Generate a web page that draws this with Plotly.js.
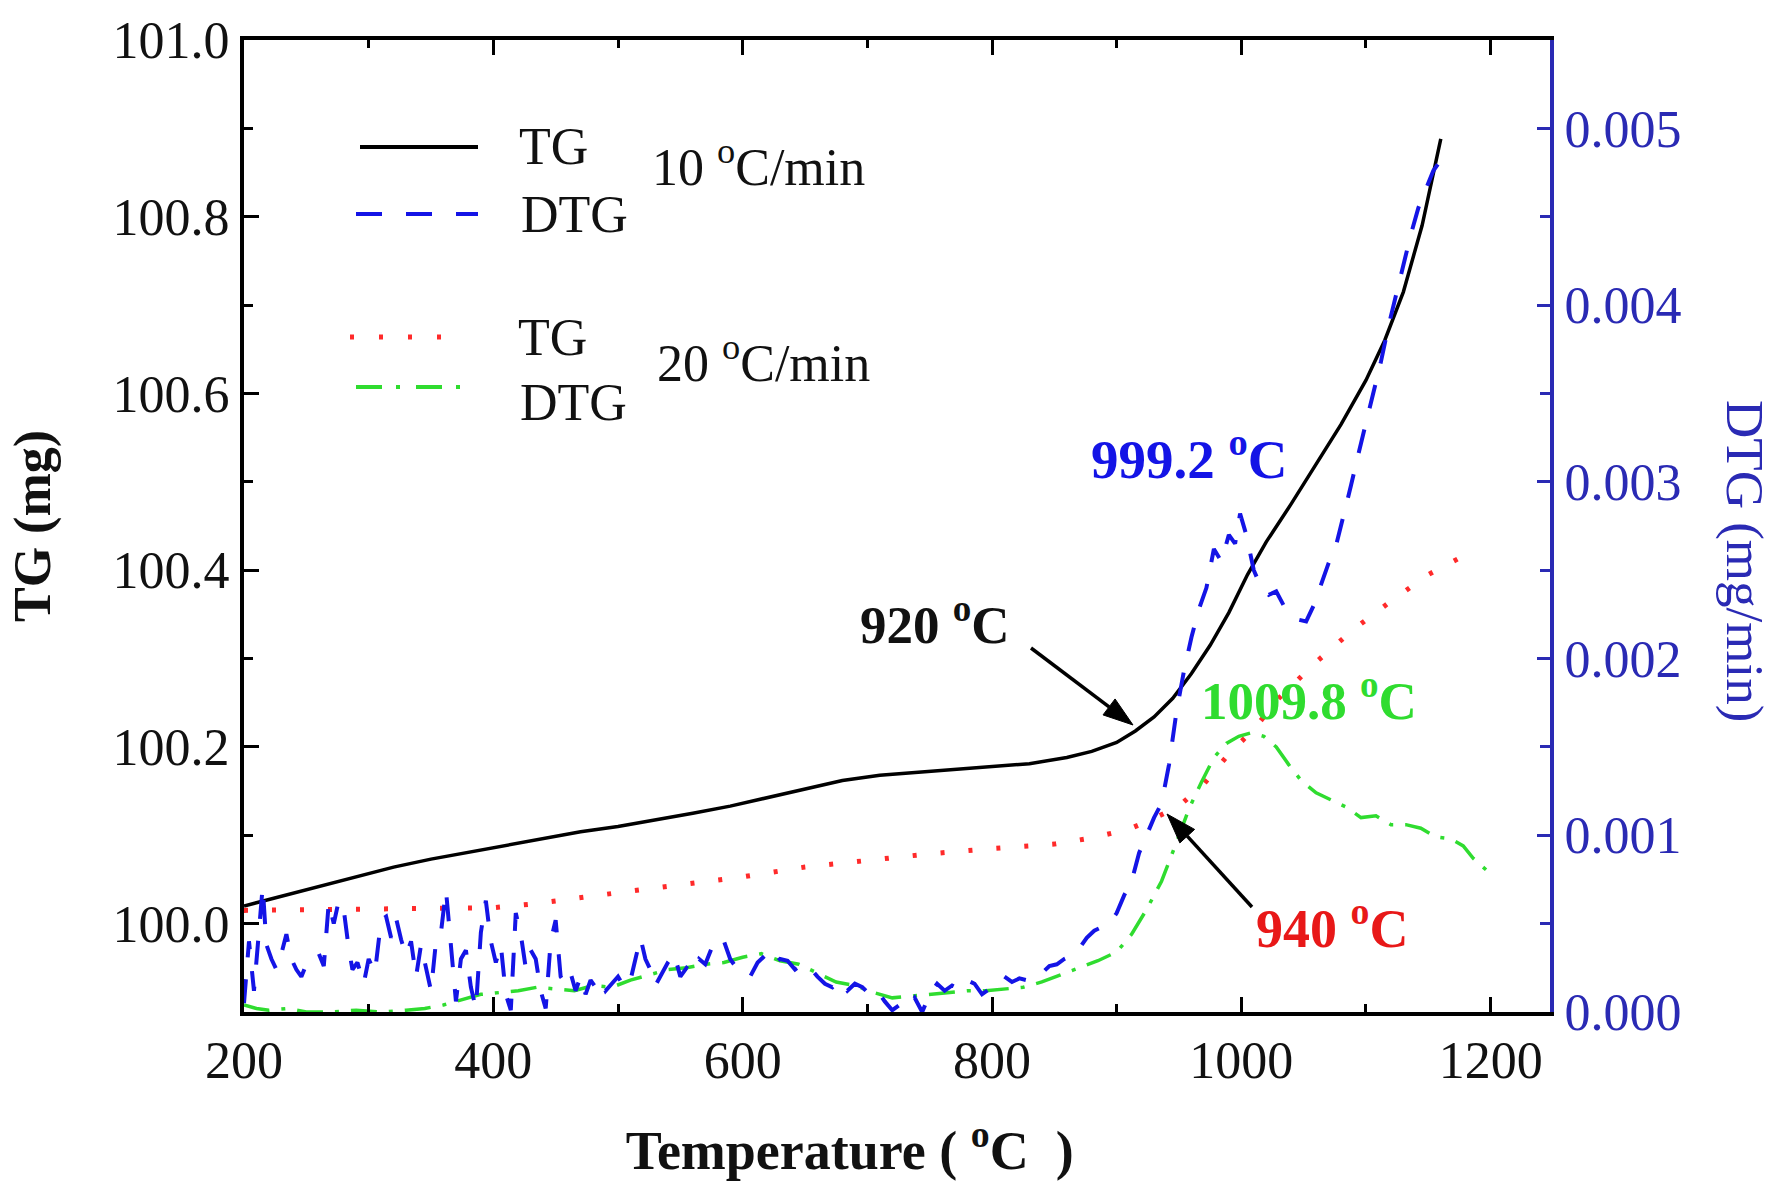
<!DOCTYPE html>
<html>
<head>
<meta charset="utf-8">
<script src="https://cdn.plot.ly/plotly-3.0.1.min.js"></script>
<style>html,body{margin:0;padding:0;background:#fff;}#chart{width:1777px;height:1186px;}</style>
</head>
<body>
<div id="chart"></div>
<script>
// ---- TG, 10 °C/min ----
const temp10 = [200, 230, 260, 290, 320, 350, 380, 410, 440, 470, 500, 530, 560, 590, 620, 650, 680, 710, 740, 770, 800, 830, 860, 880, 900, 915, 930, 945, 960, 975, 990, 1005, 1020, 1040, 1060, 1080, 1100, 1115, 1130, 1145, 1160];
const tg10 = [100.020, 100.031, 100.043, 100.053, 100.064, 100.073, 100.081, 100.089, 100.097, 100.104, 100.110, 100.117, 100.125, 100.133, 100.143, 100.153, 100.162, 100.168, 100.171, 100.174, 100.177, 100.181, 100.188, 100.195, 100.205, 100.218, 100.234, 100.255, 100.283, 100.315, 100.352, 100.395, 100.432, 100.475, 100.520, 100.565, 100.615, 100.660, 100.715, 100.790, 100.888];

// ---- DTG, 10 °C/min ----
const tempDtg10 = [200, 204, 208, 212, 215, 218, 222, 226, 230, 234, 238, 242, 246, 250, 255, 260, 264, 268, 272, 276, 280, 284, 287, 291, 296, 300, 305, 310, 314, 318, 322, 326, 330, 334, 338, 342, 346, 350, 354, 358, 362, 366, 370, 374, 378, 382, 386, 390, 394, 398, 402, 406, 410, 414, 418, 422, 426, 430, 434, 438, 442, 446, 450, 454, 458, 462, 466, 470, 474, 478, 482, 486, 490, 495, 500, 505, 510, 514, 518, 522, 526, 530, 535, 540, 545, 550, 555, 560, 565, 570, 575, 580, 585, 590, 595, 600, 606, 612, 618, 624, 630, 636, 642, 648, 654, 660, 666, 672, 678, 684, 690, 696, 702, 708, 714, 720, 726, 732, 738, 744, 750, 756, 762, 768, 774, 780, 786, 792, 798, 804, 810, 816, 822, 828, 834, 840, 846, 852, 858, 864, 870, 876, 882, 888, 894, 900, 906, 912, 918, 924, 930, 936, 942, 948, 954, 960, 966, 972, 978, 984, 990, 995, 999, 1004, 1010, 1016, 1022, 1028, 1034, 1040, 1046, 1052, 1058, 1064, 1070, 1076, 1082, 1088, 1094, 1100, 1106, 1112, 1118, 1124, 1130, 1136, 1142, 1148, 1154, 1160];
const dtg10 = [0.00005, 0.00040, 0.00012, 0.00050, 0.00071, 0.00038, 0.00030, 0.00024, 0.00033, 0.00044, 0.00030, 0.00024, 0.00020, 0.00027, 0.00030, 0.00033, 0.00026, 0.00062, 0.00050, 0.00063, 0.00058, 0.00036, 0.00024, 0.00028, 0.00016, 0.00030, 0.00022, 0.00052, 0.00054, 0.00042, 0.00053, 0.00041, 0.00032, 0.00040, 0.00020, 0.00038, 0.00025, 0.00012, 0.00040, 0.00045, 0.00069, 0.00035, 0.00006, 0.00030, 0.00035, 0.00014, 0.00002, 0.00045, 0.00063, 0.00040, 0.00028, 0.00038, 0.00010, 0.00001, 0.00056, 0.00044, 0.00025, 0.00035, 0.00030, 0.00012, 0.00002, 0.00040, 0.00052, 0.00020, 0.00016, 0.00022, 0.00012, 0.00020, 0.00010, 0.00018, 0.00014, 0.00018, 0.00012, 0.00016, 0.00020, 0.00014, 0.00018, 0.00030, 0.00042, 0.00030, 0.00024, 0.00015, 0.00022, 0.00028, 0.00033, 0.00020, 0.00025, 0.00022, 0.00030, 0.00027, 0.00036, 0.00042, 0.00040, 0.00030, 0.00025, 0.00022, 0.00020, 0.00028, 0.00032, 0.00026, 0.00030, 0.00029, 0.00024, 0.00027, 0.00025, 0.00020, 0.00016, 0.00014, 0.00018, 0.00012, 0.00016, 0.00014, 0.00010, 0.00012, 0.00006, 0.00001, 0.00004, 0.00002, 0.00008, 0.00000, 0.00010, 0.00016, 0.00012, 0.00015, 0.00013, 0.00018, 0.00016, 0.00010, 0.00013, 0.00016, 0.00020, 0.00017, 0.00019, 0.00018, 0.00021, 0.00022, 0.00026, 0.00027, 0.00030, 0.00032, 0.00036, 0.00042, 0.00046, 0.00048, 0.00050, 0.00056, 0.00066, 0.00074, 0.00090, 0.00100, 0.00110, 0.00118, 0.00140, 0.00170, 0.00193, 0.00212, 0.00228, 0.00240, 0.00262, 0.00255, 0.00270, 0.00265, 0.00282, 0.00270, 0.00250, 0.00240, 0.00236, 0.00238, 0.00230, 0.00226, 0.00222, 0.00221, 0.00230, 0.00242, 0.00254, 0.00264, 0.00280, 0.00298, 0.00316, 0.00333, 0.00350, 0.00368, 0.00388, 0.00405, 0.00424, 0.00440, 0.00455, 0.00466, 0.00476, 0.00482];

// ---- TG, 20 °C/min ----
const temp20 = [200, 250, 300, 350, 400, 430, 460, 500, 550, 600, 650, 700, 750, 800, 850, 880, 910, 930, 950, 970, 990, 1010, 1030, 1060, 1090, 1120, 1150, 1190];
const tg20 = [100.015, 100.016, 100.016, 100.017, 100.018, 100.022, 100.028, 100.035, 100.044, 100.053, 100.064, 100.072, 100.079, 100.085, 100.090, 100.097, 100.107, 100.119, 100.133, 100.158, 100.192, 100.220, 100.255, 100.296, 100.333, 100.365, 100.395, 100.425];

// ---- DTG, 20 °C/min ----
const tempDtg20 = [200, 210, 220, 235, 250, 270, 290, 310, 330, 345, 360, 375, 390, 405, 420, 435, 450, 465, 480, 495, 510, 525, 540, 555, 570, 585, 600, 615, 630, 645, 660, 675, 690, 705, 720, 735, 750, 765, 780, 795, 810, 825, 840, 855, 870, 885, 900, 912, 924, 936, 948, 958, 968, 978, 988, 998, 1008, 1018, 1028, 1038, 1048, 1060, 1072, 1084, 1096, 1108, 1120, 1132, 1144, 1156, 1168, 1178, 1186, 1197];
const dtg20 = [0.00004, 0.00002, 0.00001, 0.00002, 0.00000, 0.00000, 0.00001, 0.00000, 0.00001, 0.00002, 0.00004, 0.00007, 0.00010, 0.00011, 0.00012, 0.00014, 0.00013, 0.00012, 0.00015, 0.00014, 0.00018, 0.00021, 0.00024, 0.00025, 0.00027, 0.00028, 0.00031, 0.00033, 0.00029, 0.00027, 0.00022, 0.00017, 0.00015, 0.00011, 0.00008, 0.00009, 0.00010, 0.00011, 0.00012, 0.00012, 0.00013, 0.00014, 0.00017, 0.00021, 0.00025, 0.00029, 0.00034, 0.00044, 0.00058, 0.00074, 0.00096, 0.00115, 0.00130, 0.00144, 0.00152, 0.00156, 0.00158, 0.00156, 0.00150, 0.00140, 0.00131, 0.00124, 0.00120, 0.00116, 0.00110, 0.00111, 0.00106, 0.00106, 0.00104, 0.00099, 0.00098, 0.00094, 0.00087, 0.00080];

// ---- tick labels ----
const xTicks = [200, 400, 600, 800, 1000, 1200];
const yTicks = [100.0, 100.2, 100.4, 100.6, 100.8, 101.0];
const y2Ticks = [0.000, 0.001, 0.002, 0.003, 0.004, 0.005];

const FONT = 'Liberation Serif, Times New Roman, serif';
const BLUE = '#1414e6';
const AXBLUE = '#2a2ab4';
const RED = '#ff2a2a';
const GREEN = '#2fdc2f';

// plot-area pixel box (for placing legend decorations and callout arrows)
const L = 244, R = 1550, T = 40, B = 1012;
const px = X => (X - L) / (R - L);
const py = Y => (B - Y) / (B - T);

const traces = [
  {x: temp10, y: tg10, type: 'scatter', mode: 'lines', name: 'TG 10 °C/min',
   line: {color: '#000', width: 3.5}, yaxis: 'y'},
  {x: temp20, y: tg20, type: 'scatter', mode: 'lines', name: 'TG 20 °C/min',
   line: {color: RED, width: 5, dash: '4px,24px'}, yaxis: 'y'},
  {x: tempDtg20, y: dtg20, type: 'scatter', mode: 'lines', name: 'DTG 20 °C/min',
   line: {color: GREEN, width: 3.5, dash: '26px,12px,4px,12px'}, yaxis: 'y2'},
  {x: tempDtg10, y: dtg10, type: 'scatter', mode: 'lines', name: 'DTG 10 °C/min',
   line: {color: BLUE, width: 4, dash: '24px,22px'}, yaxis: 'y2'}
];

// callout arrow: line + filled triangular head (pixel positions → paper)
function arrow(x0, y0, x1, y1) {
  const dx = x1 - x0, dy = y1 - y0, len = Math.hypot(dx, dy);
  const ux = dx / len, uy = dy / len, nx = -uy, ny = ux;
  const hl = 30, hw = 10;
  const bx = x1 - hl * ux, by = y1 - hl * uy;
  const pts = [[x1, y1], [bx + hw * nx, by + hw * ny], [bx - hw * nx, by - hw * ny]];
  return [
    {type: 'line', xref: 'paper', yref: 'paper', x0: px(x0), y0: py(y0), x1: px(bx), y1: py(by), line: {color: '#000', width: 3.5}},
    {type: 'path', xref: 'paper', yref: 'paper',
     path: 'M' + pts.map(p => px(p[0]) + ',' + py(p[1])).join('L') + 'Z',
     fillcolor: '#000', line: {color: '#000', width: 1}}
  ];
}

const shapes = [
  {type: 'line', xref: 'paper', yref: 'paper', x0: px(360), x1: px(478), y0: py(147), y1: py(147), line: {color: '#000', width: 4}},
  {type: 'line', xref: 'paper', yref: 'paper', x0: px(356), x1: px(478), y0: py(214), y1: py(214), line: {color: BLUE, width: 4, dash: '26px,24px'}},
  {type: 'line', xref: 'paper', yref: 'paper', x0: px(350), x1: px(452), y0: py(337), y1: py(337), line: {color: RED, width: 5, dash: '4px,25px'}},
  {type: 'line', xref: 'paper', yref: 'paper', x0: px(356), x1: px(470), y0: py(387), y1: py(387), line: {color: GREEN, width: 4, dash: '26px,14px,4px,16px'}},
  ...arrow(1031, 648, 1133, 725),
  ...arrow(1252, 907, 1167, 814)
];

const legText = (t, X, Y) => ({text: t, xref: 'paper', yref: 'paper', x: px(X), y: py(Y), xanchor: 'left', yanchor: 'middle', showarrow: false, font: {family: FONT, size: 52, color: '#111'}});
const lab = (t, x, y, color, s) => ({text: t, xref: 'x', yref: 'y', x: x, y: y, xanchor: 'center', yanchor: 'middle', showarrow: false, font: {family: FONT, size: s, color: color, weight: 'bold'}});

const annotations = [
  legText('TG', 517, 147),
  legText('DTG', 519, 214),
  legText('10 <sup>o</sup>C/min', 650, 163),
  legText('TG', 516, 337),
  legText('DTG', 518, 402),
  legText('20 <sup>o</sup>C/min', 655, 360),
  lab('999.2 <sup>o</sup>C', 958, 100.530, BLUE, 55),
  lab('920 <sup>o</sup>C', 754, 100.342, '#111', 53),
  lab('1009.8 <sup>o</sup>C', 1054, 100.256, GREEN, 53),
  lab('940 <sup>o</sup>C', 1073, 99.999, '#e81818', 54),
  {text: 'DTG (mg/min)', xref: 'paper', yref: 'paper', x: px(1745), y: py(561), textangle: 90, showarrow: false, xanchor: 'center', yanchor: 'middle', font: {family: FONT, size: 53, color: AXBLUE}}
];

const layout = {
  width: 1777, height: 1186,
  margin: {l: L, r: 1777 - R, t: T, b: 1186 - B, pad: 0},
  paper_bgcolor: '#fff', plot_bgcolor: '#fff',
  showlegend: false,
  font: {family: FONT, size: 52, color: '#111'},
  xaxis: {
    range: [200, 1247.6], tickvals: xTicks, ticktext: xTicks.map(String),
    showgrid: false, zeroline: false, showline: true, linecolor: '#000', linewidth: 4, mirror: 'ticks',
    ticks: 'inside', ticklen: 15, tickwidth: 3, tickcolor: '#000',
    minor: {dtick: 100, tick0: 200, ticks: 'inside', ticklen: 8, tickwidth: 3, tickcolor: '#000'},
    tickfont: {family: FONT, size: 52, color: '#111'},
    title: {text: 'Temperature ( <sup>o</sup>C  )&nbsp;&nbsp;&nbsp;&nbsp;&nbsp;&nbsp;&nbsp;', font: {family: FONT, size: 54, color: '#111', weight: 'bold'}, standoff: 44}
  },
  yaxis: {
    range: [99.9, 101.0], tickvals: yTicks, ticktext: yTicks.map(v => v.toFixed(1)),
    showgrid: false, zeroline: false, showline: true, linecolor: '#000', linewidth: 4, mirror: false,
    ticks: 'inside', ticklen: 15, tickwidth: 3, tickcolor: '#000',
    minor: {dtick: 0.1, tick0: 100.1, ticks: 'inside', ticklen: 9, tickwidth: 3, tickcolor: '#000'},
    tickfont: {family: FONT, size: 52, color: '#111'},
    title: {text: 'TG (mg)', font: {family: FONT, size: 52, color: '#111', weight: 'bold'}, standoff: 46}
  },
  yaxis2: {
    overlaying: 'y', side: 'right', anchor: 'x',
    range: [0, 0.0055], tickvals: y2Ticks, ticktext: y2Ticks.map(v => v.toFixed(3)),
    showgrid: false, zeroline: false, showline: true, linecolor: AXBLUE, linewidth: 4,
    ticks: 'inside', ticklen: 13, tickwidth: 3, tickcolor: AXBLUE,
    minor: {dtick: 0.0005, tick0: 0, ticks: 'inside', ticklen: 10, tickwidth: 3, tickcolor: AXBLUE},
    tickfont: {family: FONT, size: 52, color: AXBLUE}
  },
  shapes: shapes,
  annotations: annotations
};

Plotly.newPlot('chart', traces, layout, {displayModeBar: false, staticPlot: true});
</script>
</body>
</html>
